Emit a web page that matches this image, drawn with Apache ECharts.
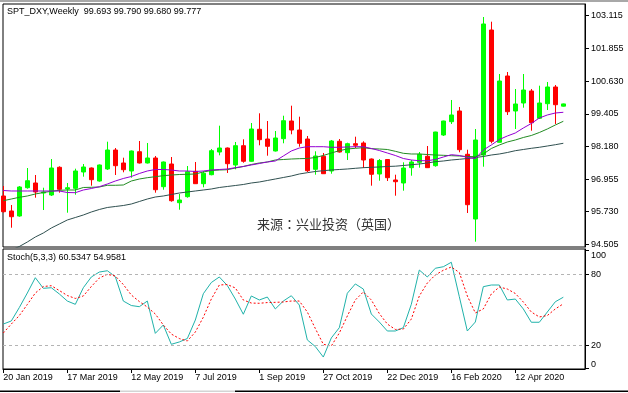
<!DOCTYPE html>
<html><head><meta charset="utf-8">
<script src="https://cdn.jsdelivr.net/npm/echarts@6/dist/echarts.min.js"></script>
<style>html,body{margin:0;padding:0;background:#fff}#c{width:628px;height:393px}</style>
</head><body><div id="c"></div>
<script>
const symbolName = 'SPT_DXY';
const timeframe = 'Weekly';
const opens  = [96.319,95.756,95.568,96.630,96.807,96.431,96.356,97.397,96.582,96.608,97.220,97.370,96.882,97.333,98.046,97.558,97.258,97.982,97.558,97.746,96.668,97.520,96.067,96.293,97.246,96.781,97.119,97.971,98.121,97.483,98.208,97.622,98.824,98.459,98.009,98.471,99.135,98.797,98.459,97.321,97.810,97.258,98.373,97.945,98.283,98.309,97.708,97.145,97.689,96.920,96.807,97.382,97.584,97.810,97.457,98.609,99.109,99.511,97.885,95.455,97.858,102.552,98.335,100.825,99.511,99.811,100.262,99.237,99.785,100.412,99.693];
const highs  = [96.694,95.981,96.694,97.370,97.107,96.630,97.708,97.434,96.807,97.344,97.520,97.389,97.502,98.358,98.121,97.757,98.027,98.384,98.309,97.821,97.614,97.783,96.394,97.445,97.596,97.258,98.084,98.959,98.140,98.347,98.448,99.060,99.424,99.135,98.760,99.334,99.710,99.297,98.572,97.997,97.934,98.422,98.459,98.320,98.546,98.373,97.727,97.708,97.708,97.119,97.584,97.671,97.971,98.196,98.730,99.146,99.924,99.661,98.057,98.835,103.041,102.864,100.900,100.975,100.337,100.900,100.337,100.461,100.600,100.487,99.790];
const lows   = [95.699,95.128,95.541,96.593,96.255,95.793,96.319,96.443,95.692,96.368,97.044,96.706,96.856,97.295,97.107,97.209,97.006,97.539,97.539,96.443,96.555,96.105,95.804,96.255,96.769,96.646,97.096,97.847,97.183,97.321,97.569,97.607,98.223,97.832,97.990,98.298,98.636,98.170,97.220,97.119,97.145,97.156,97.952,97.671,98.121,97.370,96.706,96.893,96.882,96.330,96.518,97.081,97.382,97.370,97.419,98.572,99.023,97.960,95.680,94.603,97.419,98.298,98.328,99.361,98.835,99.635,98.771,99.210,99.548,99.023,99.680];
const closes = [95.729,95.541,96.657,96.893,96.469,96.469,97.370,96.570,96.630,97.258,97.408,96.931,97.483,98.046,97.457,97.306,98.009,97.558,97.746,96.555,97.596,96.142,96.169,97.231,96.781,97.171,98.020,98.121,97.532,98.208,97.622,98.835,98.433,98.185,98.497,99.146,98.797,98.298,97.269,97.821,97.156,98.384,97.971,98.283,98.223,97.671,97.134,97.652,97.006,96.856,97.370,97.596,97.885,97.382,98.722,99.135,99.361,98.057,95.992,98.422,102.778,98.373,100.637,99.484,99.774,100.299,99.071,99.811,100.412,99.747,99.777];
const maFast = [96.525,96.507,96.507,96.507,96.507,96.507,96.507,96.507,96.450,96.443,96.544,96.600,96.668,96.769,96.882,96.976,97.051,97.164,97.258,97.314,97.314,97.295,97.258,97.258,97.239,97.258,97.295,97.314,97.333,97.382,97.427,97.483,97.539,97.596,97.633,97.821,98.009,98.121,98.170,98.170,98.170,98.148,98.148,98.159,98.170,98.170,98.103,98.027,97.934,97.840,97.727,97.671,97.644,97.644,97.689,97.783,97.870,97.840,97.772,97.720,98.046,98.234,98.440,98.572,98.685,98.872,99.041,99.248,99.361,99.436,99.462];
const maMid  = [96.142,96.206,96.270,96.319,96.394,96.450,96.495,96.533,96.544,96.544,96.638,96.645,96.657,96.721,96.721,96.732,96.882,96.957,97.006,97.044,97.081,97.107,97.126,97.134,97.145,97.220,97.276,97.295,97.306,97.370,97.427,97.502,97.558,97.596,97.671,97.689,97.708,97.720,97.727,97.765,97.840,97.934,98.020,98.084,98.110,98.133,98.095,98.084,98.065,97.997,97.922,97.896,97.896,97.877,97.858,97.847,97.832,97.821,97.802,97.795,97.896,98.103,98.234,98.347,98.422,98.516,98.591,98.703,98.835,98.985,99.124];
const maSlow = [94.141,94.291,94.422,94.591,94.779,94.929,95.117,95.267,95.418,95.511,95.605,95.718,95.812,95.887,95.925,95.962,96.018,96.112,96.206,96.281,96.319,96.375,96.431,96.469,96.507,96.544,96.582,96.638,96.676,96.713,96.751,96.807,96.845,96.901,96.957,97.014,97.070,97.145,97.194,97.239,97.269,97.295,97.314,97.333,97.359,97.382,97.397,97.408,97.427,97.438,97.464,97.494,97.520,97.558,97.607,97.633,97.671,97.697,97.727,97.765,97.802,97.858,97.896,97.952,98.020,98.065,98.110,98.148,98.196,98.245,98.298];
const stochK = [37.8,40.4,51.8,64.1,77.1,68.1,68.6,63.3,57.3,54.5,68.6,77.7,81.9,83.0,78.0,57.3,53.5,52.5,57.3,29.9,37.0,20.6,22.6,25.5,41.2,63.5,73.0,77.7,70.5,59.0,46.1,61.6,58.2,60.7,50.6,57.3,61.8,53.9,24.3,18.7,9.8,26.0,34.7,63.9,71.8,67.5,46.3,39.5,31.9,31.9,34.7,54.5,83.6,77.7,85.1,86.4,90.2,61.0,31.9,39.5,69.5,70.9,70.9,58.2,59.0,50.6,39.3,39.3,48.0,56.7,60.5347];
const stochD = [30.2,37.8,45.0,54.4,64.1,69.6,70.3,66.2,62.0,59.5,61.6,69.6,76.8,80.0,78.5,71.3,62.4,56.9,52.2,46.3,37.0,29.3,25.5,23.4,31.0,43.6,59.0,70.9,71.3,68.4,58.2,55.6,55.4,56.0,56.2,56.5,57.3,57.3,48.0,34.0,20.6,19.2,30.2,44.6,58.2,65.0,58.2,46.7,37.8,33.2,33.5,42.0,61.6,72.6,79.4,83.4,86.2,81.5,61.6,47.2,50.6,63.3,69.2,67.5,63.7,56.5,48.0,43.8,45.0,50.6,54.9581];
const stochLevels = [20, 80];
const priceTicks = [94.505, 95.730, 96.955, 98.180, 99.405, 100.630, 101.855, 103.115];
const stochTicks = [0, 20, 80, 100];
const dateTickIndex = [0, 8, 16, 24, 32, 40, 48, 56, 64];
const dateTickLabels = ['20 Jan 2019','17 Mar 2019','12 May 2019','7 Jul 2019','1 Sep 2019','27 Oct 2019','22 Dec 2019','16 Feb 2020','12 Apr 2020'];
const sourceNote = '来源：兴业投资（英国）';

const FONT = '"Liberation Sans", Arial, sans-serif';
const last = closes.length - 1;
const xMin = -0.04, xMax = 72.71;
const candles = opens.map((o, i) => [i, o, closes[i], lows[i], highs[i]]);
const pair = arr => arr.map((v, i) => [i, v]);
const tickLabelMap = {};
dateTickIndex.forEach((d, k) => { tickLabelMap[d] = dateTickLabels[k]; });

const chart = echarts.init(document.getElementById('c'), null, {renderer: 'canvas'});
chart.setOption({
  animation: false,
  backgroundColor: '#fff',
  grid: [
    {left: 3, right: 43, top: 4, height: 243, show: true, borderColor: '#000', borderWidth: 1, backgroundColor: '#fff'},
    {left: 3, right: 43, top: 249, height: 120, show: true, borderColor: '#000', borderWidth: 1, backgroundColor: '#fff'}
  ],
  xAxis: [
    {type: 'value', gridIndex: 0, min: xMin, max: xMax, show: false},
    {type: 'value', gridIndex: 1, min: xMin, max: xMax,
     axisLine: {show: true, onZero: false, lineStyle: {color: '#000'}},
     splitLine: {show: false},
     axisTick: {show: true, customValues: dateTickIndex, length: 4, lineStyle: {color: '#000'}},
     axisLabel: {customValues: dateTickIndex, formatter: v => tickLabelMap[v] || '', align: 'left',
                 margin: 4, fontSize: 9, color: '#000', fontFamily: FONT}}
  ],
  yAxis: [
    {type: 'value', gridIndex: 0, position: 'right', min: 94.4036, max: 103.5287, scale: true,
     axisLine: {show: true, onZero: false, lineStyle: {color: '#000'}},
     splitLine: {show: false},
     axisTick: {show: true, customValues: priceTicks, length: 4, lineStyle: {color: '#000'}},
     axisLabel: {customValues: priceTicks, formatter: v => v.toFixed(3), margin: 6,
                 fontSize: 9, color: '#000', fontFamily: FONT}},
    {type: 'value', gridIndex: 1, position: 'right', min: -0.34, max: 101.44,
     axisLine: {show: true, onZero: false, lineStyle: {color: '#000'}},
     splitLine: {show: false},
     axisTick: {show: true, customValues: stochTicks, length: 4, lineStyle: {color: '#000'}},
     axisLabel: {customValues: stochTicks, formatter: v => String(v), margin: 6,
                 verticalAlignMinLabel: 'bottom', verticalAlignMaxLabel: 'top',
                 fontSize: 9, color: '#000', fontFamily: FONT}}
  ],
  series: [
    {type: 'candlestick', xAxisIndex: 0, yAxisIndex: 0, data: candles,
     dimensions: ['idx', 'open', 'close', 'lowest', 'highest'],
     encode: {x: 'idx', y: ['open', 'close', 'lowest', 'highest']},
     barWidth: 4, clip: true,
     itemStyle: {color: '#00ff00', color0: '#ff0000', borderColor: '#00ff00', borderColor0: '#ff0000', borderWidth: 1},
     markLine: {silent: true, symbol: 'none', animation: false,
       lineStyle: {opacity: 0},
       data: [{yAxis: closes[last]}],
       label: {show: true, position: 'end', distance: 2, formatter: p => Number(p.value).toFixed(3),
               backgroundColor: '#000', color: '#fff', fontSize: 9, fontFamily: FONT,
               padding: [1, 7, 1, 5], lineHeight: 9}}},
    {type: 'line', xAxisIndex: 0, yAxisIndex: 0, data: pair(maSlow), symbol: 'none', clip: true,
     lineStyle: {color: '#2f4f4f', width: 1}},
    {type: 'line', xAxisIndex: 0, yAxisIndex: 0, data: pair(maMid), symbol: 'none', clip: true,
     lineStyle: {color: '#228b22', width: 1}},
    {type: 'line', xAxisIndex: 0, yAxisIndex: 0, data: pair(maFast), symbol: 'none', clip: true,
     lineStyle: {color: '#9400d3', width: 1}},
    {type: 'line', xAxisIndex: 1, yAxisIndex: 1, data: pair(stochK), symbol: 'none', clip: true,
     lineStyle: {color: '#20b2aa', width: 1},
     markLine: {silent: true, symbol: 'none', animation: false,
       lineStyle: {color: '#b4b4b4', type: [3, 3], width: 1},
       label: {show: false},
       data: stochLevels.map(v => ({yAxis: v}))}},
    {type: 'line', xAxisIndex: 1, yAxisIndex: 1, data: pair(stochD), symbol: 'none', clip: true,
     lineStyle: {color: '#ff0000', width: 1, type: [2, 2]}}
  ],
  graphic: [
    {type: 'rect', shape: {x: 0, y: 0, width: 628, height: 2}, style: {fill: '#a8a8a8'}, silent: true},
    {type: 'rect', shape: {x: 0, y: 390.5, width: 120, height: 1.5}, style: {fill: '#000'}, silent: true},
    {type: 'rect', shape: {x: 120, y: 390.5, width: 115, height: 1.5}, style: {fill: '#d4d4d4'}, silent: true},
    {type: 'rect', shape: {x: 235, y: 390.5, width: 393, height: 1.5}, style: {fill: '#000'}, silent: true},
    {type: 'text', left: 7, top: 7, silent: true,
     style: {text: symbolName + ',' + timeframe + '  ' + [opens[last], highs[last], lows[last], closes[last]].map(v => v.toFixed(3)).join(' '),
             font: '9px ' + FONT, fill: '#000'}},
    {type: 'text', left: 7, top: 253, silent: true,
     style: {text: 'Stoch(5,3,3) ' + stochK[last].toFixed(4) + ' ' + stochD[last].toFixed(4),
             font: '9px ' + FONT, fill: '#000'}},
    {type: 'text', left: 257, top: 218, silent: true,
     style: {text: sourceNote, font: '13px "Noto Sans CJK TC", "Noto Sans CJK SC", sans-serif', fill: '#333'}}
  ]
});
</script></body></html>
